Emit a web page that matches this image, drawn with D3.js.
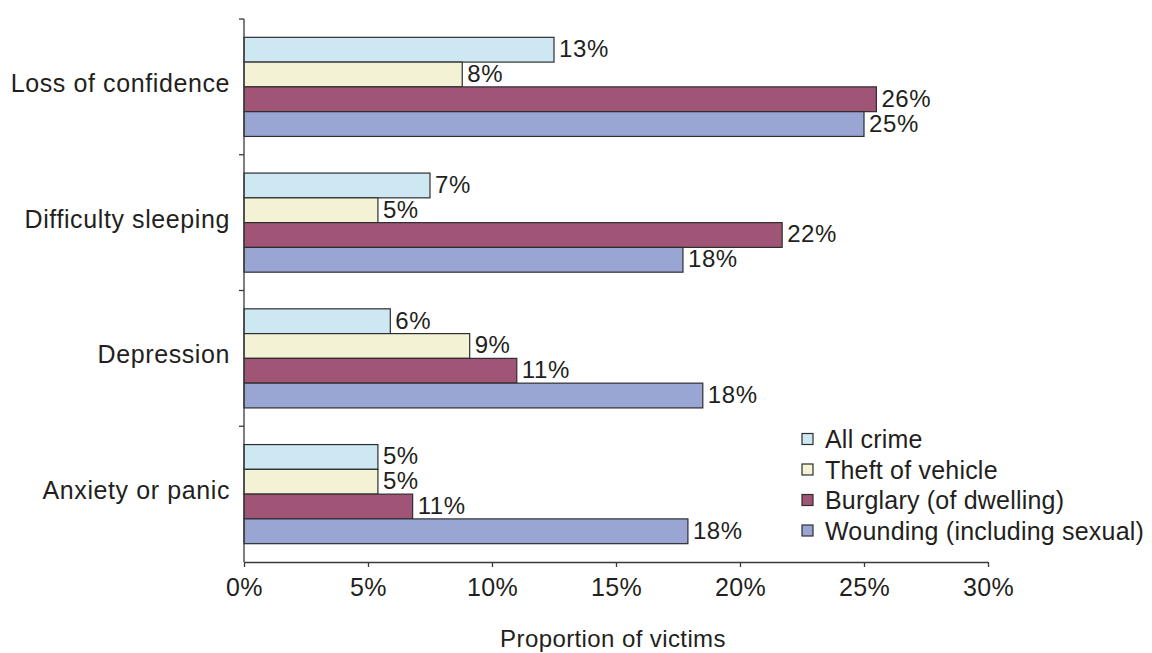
<!DOCTYPE html>
<html>
<head>
<meta charset="utf-8">
<script src="https://cdn.jsdelivr.net/npm/d3@7"></script>
<style>
  html, body { margin: 0; padding: 0; background: #fff; }
  svg { display: block; font-family: "Liberation Sans", Arial, Helvetica, sans-serif; }
</style>
</head>
<body>
<svg id="chart" width="1152" height="653"></svg>
<script>
// ---- data ----
const categories = ["Loss of confidence", "Difficulty sleeping", "Depression", "Anxiety or panic"];
const seriesNames = ["All crime", "Theft of vehicle", "Burglary (of dwelling)", "Wounding (including sexual)"];
// bar lengths as drawn (percent)
const allCrime  = [12.5, 7.5, 5.9, 5.4];
const theft     = [8.8, 5.4, 9.1, 5.4];
const burglary  = [25.5, 21.7, 11.0, 6.8];
const wounding  = [25.0, 17.7, 18.5, 17.9];
// printed value labels
const allCrimeLabels = ["13%", "7%", "6%", "5%"];
const theftLabels    = ["8%", "5%", "9%", "5%"];
const burglaryLabels = ["26%", "22%", "11%", "11%"];
const woundingLabels = ["25%", "18%", "18%", "18%"];
const xTicks = [0, 5, 10, 15, 20, 25, 30];
const colors = ["#cde8f2", "#f3f2d4", "#a05577", "#99a5d3"];
const xTitle = "Proportion of victims";

(function () {
const seriesValues = [allCrime, theft, burglary, wounding];
const seriesLabels = [allCrimeLabels, theftLabels, burglaryLabels, woundingLabels];

// ---- layout ----
const svg = d3.select("#chart");
const mLeft = 244, mRight = 988, mTop = 19, mBottom = 562;
const axisColor = "#3a3a3a";
const textColor = "#231f20";
const fontSize = 25;

const x = d3.scaleLinear().domain([0, 30]).range([mLeft, mRight]);
const y = d3.scaleBand().domain(categories).range([mTop, mBottom]).paddingInner(0.27).paddingOuter(0.135);
const ys = d3.scaleBand().domain(d3.range(seriesNames.length)).range([0, y.bandwidth()]);

// bars
const groups = svg.append("g").selectAll("g")
  .data(categories).join("g")
  .attr("transform", d => `translate(0,${y(d)})`);

groups.each(function(cat, ci) {
  const g = d3.select(this);
  seriesNames.forEach((s, si) => {
    const v = seriesValues[si][ci];
    g.append("rect")
      .attr("x", x(0))
      .attr("y", ys(si))
      .attr("width", x(v) - x(0))
      .attr("height", ys.bandwidth())
      .attr("fill", colors[si])
      .attr("stroke", "#2e2e2e")
      .attr("stroke-width", 1.2);
    g.append("text")
      .attr("x", x(v) + 5)
      .attr("y", ys(si) + ys.bandwidth() / 2 - 1)
      .attr("dominant-baseline", "central")
      .attr("font-size", 24)
      .attr("letter-spacing", 0.6)
      .attr("fill", textColor)
      .text(seriesLabels[si][ci]);
  });
});

// y axis with ticks at band boundaries
const yAxisG = svg.append("g");
yAxisG.append("line")
  .attr("x1", mLeft).attr("x2", mLeft)
  .attr("y1", mTop).attr("y2", mBottom)
  .attr("stroke", axisColor).attr("stroke-width", 1.3);
const boundaries = categories.map(c => y(c) - y.step() * 0.135);
yAxisG.selectAll("line.t").data(boundaries).join("line")
  .attr("class", "t")
  .attr("x1", mLeft - 5).attr("x2", mLeft)
  .attr("y1", d => d).attr("y2", d => d)
  .attr("stroke", axisColor).attr("stroke-width", 1.3);

// category labels
svg.append("g").selectAll("text")
  .data(categories).join("text")
  .attr("x", mLeft - 14)
  .attr("y", d => y(d) + y.bandwidth() / 2 - 4)
  .attr("text-anchor", "end")
  .attr("dominant-baseline", "central")
  .attr("font-size", fontSize)
  .attr("letter-spacing", 0.6)
  .attr("fill", textColor)
  .text(d => d);

// x axis
const xAxis = d3.axisBottom(x)
  .tickValues(xTicks)
  .tickFormat(d => d + "%")
  .tickSize(5)
  .tickSizeOuter(0)
  .tickPadding(11);
const xg = svg.append("g").attr("transform", `translate(0,${mBottom})`).call(xAxis);
xg.select(".domain").attr("stroke", axisColor).attr("stroke-width", 1.3);
xg.selectAll(".tick line").attr("stroke", axisColor).attr("stroke-width", 1.3);
xg.selectAll(".tick text")
  .attr("font-size", fontSize)
  .attr("letter-spacing", 0.4)
  .attr("fill", textColor)
  .attr("font-family", "Liberation Sans, Arial, sans-serif");

// x title
svg.append("text")
  .attr("x", 613)
  .attr("y", 638)
  .attr("text-anchor", "middle")
  .attr("dominant-baseline", "central")
  .attr("font-size", 24)
  .attr("letter-spacing", 0.4)
  .attr("fill", textColor)
  .text(xTitle);

// legend
const legend = svg.append("g").attr("transform", "translate(802,439)");
const li = legend.selectAll("g").data(seriesNames).join("g")
  .attr("transform", (d, i) => `translate(0,${i * 30.5})`);
li.append("rect")
  .attr("x", 0).attr("y", -5.5)
  .attr("width", 11).attr("height", 11)
  .attr("fill", (d, i) => colors[i])
  .attr("stroke", "#2e2e2e").attr("stroke-width", 1.2);
li.append("text")
  .attr("x", 23).attr("y", 0)
  .attr("dominant-baseline", "central")
  .attr("font-size", fontSize)
  .attr("letter-spacing", 0.2)
  .attr("fill", textColor)
  .text(d => d);
})();
</script>
</body>
</html>
